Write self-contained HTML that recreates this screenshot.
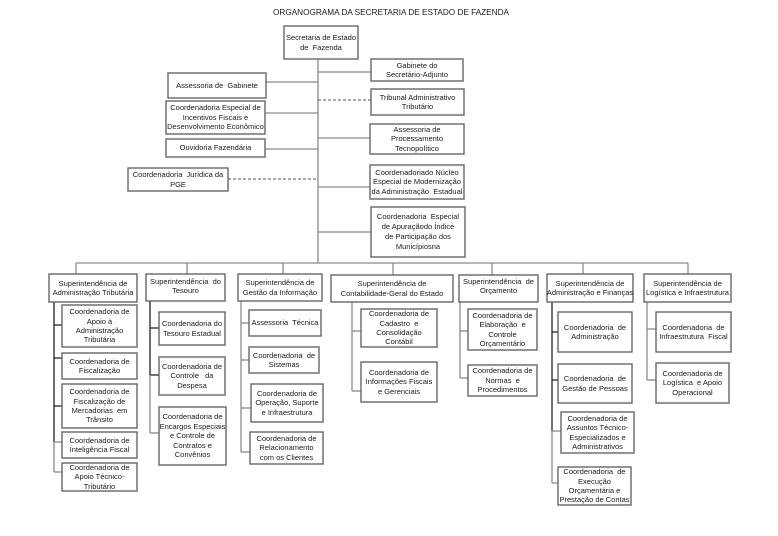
<!DOCTYPE html>
<html>
<head>
<meta charset="utf-8">
<style>
  html,body{margin:0;padding:0;background:#fff;}
  #wrap{position:relative;width:778px;height:536px;overflow:hidden;background:#fff;
    font-family:"Liberation Sans","DejaVu Sans",sans-serif;color:#1a1a1a;}
  svg{position:absolute;left:0;top:0;}
  .b{position:absolute;box-sizing:border-box;display:flex;align-items:center;justify-content:center;
     text-align:center;font-size:7.5px;line-height:9.4px;color:#1a1a1a;white-space:nowrap;}
  .t{align-items:flex-start;padding-top:1px;}
</style>
</head>
<body>
<div id="wrap">
<svg width="778" height="536" viewBox="0 0 778 536">
  <text x="391" y="15" text-anchor="middle" font-family="Liberation Sans, sans-serif" font-size="8.4" fill="#1a1a1a" textLength="236" lengthAdjust="spacingAndGlyphs">ORGANOGRAMA DA SECRETARIA DE ESTADO DE FAZENDA</text>

  <g stroke="#8a8a8a" stroke-width="1.3" fill="none">
    <line x1="318" y1="59" x2="318" y2="263"/>
    <line x1="318" y1="72" x2="371" y2="72"/>
    <line x1="266" y1="82" x2="318" y2="82"/>
    <line x1="265" y1="113" x2="318" y2="113"/>
    <line x1="318" y1="138" x2="370" y2="138"/>
    <line x1="265" y1="149" x2="318" y2="149"/>
    <line x1="318" y1="187" x2="370" y2="187"/>
    <line x1="318" y1="232" x2="371" y2="232"/>
    <line x1="76" y1="263" x2="688" y2="263"/>
    <line x1="76" y1="263" x2="76" y2="274"/>
    <line x1="187" y1="263" x2="187" y2="274"/>
    <line x1="283" y1="263" x2="283" y2="274"/>
    <line x1="393" y1="263" x2="393" y2="275"/>
    <line x1="492" y1="263" x2="492" y2="275"/>
    <line x1="583" y1="263" x2="583" y2="274"/>
    <line x1="688" y1="263" x2="688" y2="274"/>
  </g>
  <g stroke="#555" stroke-width="1" stroke-dasharray="3,2" fill="none">
    <line x1="318" y1="100" x2="371" y2="100"/>
    <line x1="228" y1="179" x2="318" y2="179"/>
  </g>

  <g stroke="#222" stroke-width="1.3" fill="none">
    <line x1="54" y1="302" x2="54" y2="442"/>
    <line x1="54" y1="325" x2="62" y2="325"/>
    <line x1="54" y1="358" x2="62" y2="358"/>
    <line x1="54" y1="406" x2="62" y2="406"/>
  </g>
  <g stroke="#8a8a8a" stroke-width="1.3" fill="none">
    <line x1="54" y1="442" x2="54" y2="472"/>
    <line x1="54" y1="442" x2="62" y2="442"/>
    <line x1="54" y1="472" x2="62" y2="472"/>
  </g>
  <g stroke="#222" stroke-width="1.3" fill="none">
    <line x1="150" y1="301" x2="150" y2="375"/>
    <line x1="150" y1="328" x2="159" y2="328"/>
    <line x1="150" y1="375" x2="159" y2="375"/>
  </g>
  <g stroke="#8a8a8a" stroke-width="1.3" fill="none">
    <line x1="150" y1="375" x2="150" y2="433"/>
    <line x1="150" y1="433" x2="159" y2="433"/>
    <line x1="241" y1="301" x2="241" y2="452"/>
    <line x1="241" y1="323" x2="249" y2="323"/>
    <line x1="241" y1="360" x2="249" y2="360"/>
    <line x1="241" y1="408" x2="251" y2="408"/>
    <line x1="241" y1="452" x2="250" y2="452"/>
    <line x1="352" y1="302" x2="352" y2="391"/>
    <line x1="352" y1="331" x2="361" y2="331"/>
    <line x1="352" y1="391" x2="361" y2="391"/>
    <line x1="460" y1="302" x2="460" y2="378"/>
    <line x1="460" y1="331" x2="468" y2="331"/>
    <line x1="460" y1="378" x2="468" y2="378"/>
    <line x1="647" y1="302" x2="647" y2="380"/>
    <line x1="647" y1="329" x2="656" y2="329"/>
    <line x1="647" y1="380" x2="656" y2="380"/>
  </g>
  <g stroke="#222" stroke-width="1.3" fill="none">
    <line x1="552" y1="302" x2="552" y2="431"/>
    <line x1="552" y1="332" x2="558" y2="332"/>
    <line x1="552" y1="380" x2="558" y2="380"/>
  </g>
  <g stroke="#8a8a8a" stroke-width="1.3" fill="none">
    <line x1="552" y1="431" x2="552" y2="483"/>
    <line x1="552" y1="431" x2="561" y2="431"/>
    <line x1="552" y1="483" x2="558" y2="483"/>
  </g>

  <g stroke="#666" stroke-width="1.4" fill="#fff">
    <rect x="284" y="26" width="74" height="33"/>
    <rect x="371" y="59" width="92" height="22"/>
    <rect x="371" y="89" width="93" height="26"/>
    <rect x="370" y="124" width="94" height="30"/>
    <rect x="370" y="165" width="94" height="34"/>
    <rect x="371" y="207" width="94" height="50"/>
    <rect x="168" y="73" width="98" height="25"/>
    <rect x="166" y="101" width="99" height="33"/>
    <rect x="166" y="139" width="99" height="18"/>
    <rect x="128" y="168" width="100" height="23"/>

    <rect x="49" y="274" width="88" height="28"/>
    <rect x="146" y="274" width="79" height="27"/>
    <rect x="238" y="274" width="84" height="27"/>
    <rect x="331" y="275" width="122" height="27"/>
    <rect x="459" y="275" width="79" height="27"/>
    <rect x="547" y="274" width="86" height="28"/>
    <rect x="644" y="274" width="87" height="28"/>

    <rect x="62" y="305" width="75" height="42"/>
    <rect x="62" y="353" width="75" height="26"/>
    <rect x="62" y="384" width="75" height="44"/>
    <rect x="62" y="432" width="75" height="26"/>
    <rect x="62" y="463" width="75" height="28"/>

    <rect x="159" y="312" width="66" height="33"/>
    <rect x="159" y="357" width="66" height="38"/>
    <rect x="159" y="407" width="67" height="58"/>

    <rect x="249" y="310" width="72" height="26"/>
    <rect x="249" y="347" width="70" height="26"/>
    <rect x="251" y="384" width="72" height="38"/>
    <rect x="250" y="432" width="73" height="32"/>

    <rect x="361" y="309" width="76" height="38"/>
    <rect x="361" y="362" width="76" height="40"/>

    <rect x="468" y="309" width="69" height="41"/>
    <rect x="468" y="365" width="69" height="31"/>

    <rect x="558" y="312" width="74" height="40"/>
    <rect x="558" y="364" width="74" height="39"/>
    <rect x="561" y="412" width="73" height="41"/>
    <rect x="558" y="467" width="73" height="38"/>

    <rect x="656" y="312" width="75" height="40"/>
    <rect x="656" y="363" width="73" height="40"/>
  </g>
</svg>

<div class="b" style="left:284px;top:26px;width:74px;height:33px;">Secretaria de Estado<br>de&nbsp;&nbsp;Fazenda</div>
<div class="b" style="left:371px;top:59px;width:92px;height:22px;">Gabinete do<br>Secretário-Adjunto</div>
<div class="b" style="left:371px;top:89px;width:93px;height:26px;">Tribunal Administrativo<br>Tributário</div>
<div class="b" style="left:370px;top:124px;width:94px;height:30px;">Assessoria de<br>Processamento<br>Tecnopolítico</div>
<div class="b" style="left:370px;top:165px;width:94px;height:34px;">Coordenadoriado Núcleo<br>Especial de Modernização<br>da Administração&nbsp; Estadual</div>
<div class="b" style="left:371px;top:207px;width:94px;height:50px;line-height:10px;">Coordenadoria&nbsp; Especial<br>de Apuraçãodo Índice<br>de Participação dos<br>Municípiosna</div>
<div class="b" style="left:168px;top:73px;width:98px;height:25px;">Assessoria de&nbsp; Gabinete</div>
<div class="b" style="left:166px;top:101px;width:99px;height:33px;">Coordenadoria Especial de<br>Incentivos Fiscais e<br>Desenvolvimento Econômico</div>
<div class="b" style="left:166px;top:139px;width:99px;height:18px;">Ouvidoria Fazendária</div>
<div class="b" style="left:128px;top:168px;width:100px;height:23px;">Coordenadoria&nbsp; Jurídica da<br>PGE</div>

<div class="b" style="left:49px;top:274px;width:88px;height:28px;">Superintendência de<br>Administração Tributária</div>
<div class="b t" style="left:146px;top:274px;width:79px;height:27px;padding-top:3px;">Superintendência&nbsp; do<br>Tesouro</div>
<div class="b" style="left:238px;top:274px;width:84px;height:27px;">Superintendência de<br>Gestão da Informação</div>
<div class="b" style="left:331px;top:275px;width:122px;height:27px;">Superintendência de<br>Contabilidade-Geral do Estado</div>
<div class="b t" style="left:459px;top:275px;width:79px;height:27px;padding-top:2px;">Superintendência&nbsp; de<br>Orçamento</div>
<div class="b" style="left:547px;top:274px;width:86px;height:28px;">Superintendência de<br>Administração e Finanças</div>
<div class="b" style="left:644px;top:274px;width:87px;height:28px;">Superintendência de<br>Logística e Infraestrutura</div>

<div class="b" style="left:62px;top:305px;width:75px;height:42px;">Coordenadoria de<br>Apoio à<br>Administração<br>Tributária</div>
<div class="b" style="left:62px;top:353px;width:75px;height:26px;">Coordenadoria de<br>Fiscalização</div>
<div class="b" style="left:62px;top:384px;width:75px;height:44px;">Coordenadoria de<br>Fiscalização de<br>Mercadorias&nbsp; em<br>Trânsito</div>
<div class="b" style="left:62px;top:432px;width:75px;height:26px;">Coordenadoria de<br>Inteligência Fiscal</div>
<div class="b t" style="left:62px;top:463px;width:75px;height:28px;padding-top:0;">Coordenadoria de<br>Apoio Técnico-<br>Tributário</div>

<div class="b" style="left:159px;top:312px;width:66px;height:33px;">Coordenadoria do<br>Tesouro Estadual</div>
<div class="b" style="left:159px;top:357px;width:66px;height:38px;">Coordenadoria de<br>Controle&nbsp;&nbsp; da<br>Despesa</div>
<div class="b" style="left:159px;top:407px;width:67px;height:58px;">Coordenadoria de<br>Encargos Especiais<br>e Controle de<br>Contratos e<br>Convênios</div>

<div class="b" style="left:249px;top:310px;width:72px;height:26px;">Assessoria&nbsp; Técnica</div>
<div class="b" style="left:249px;top:347px;width:70px;height:26px;">Coordenadoria&nbsp; de<br>Sistemas</div>
<div class="b" style="left:251px;top:384px;width:72px;height:38px;">Coordenadoria de<br>Operação, Suporte<br>e Infraestrutura</div>
<div class="b" style="left:250px;top:432px;width:73px;height:32px;">Coordenadoria de<br>Relacionamento<br>com os Clientes</div>

<div class="b" style="left:361px;top:309px;width:76px;height:38px;">Coordenadoria de<br>Cadastro&nbsp; e<br>Consolidação<br>Contábil</div>
<div class="b" style="left:361px;top:362px;width:76px;height:40px;">Coordenadoria de<br>Informações Fiscais<br>e Gerenciais</div>

<div class="b" style="left:468px;top:309px;width:69px;height:41px;">Coordenadoria de<br>Elaboração&nbsp; e<br>Controle<br>Orçamentário</div>
<div class="b" style="left:468px;top:365px;width:69px;height:31px;">Coordenadoria de<br>Normas&nbsp; e<br>Procedimentos</div>

<div class="b" style="left:558px;top:312px;width:74px;height:40px;">Coordenadoria&nbsp; de<br>Administração</div>
<div class="b" style="left:558px;top:364px;width:74px;height:39px;">Coordenadoria&nbsp; de<br>Gestão de Pessoas</div>
<div class="b" style="left:561px;top:412px;width:73px;height:41px;">Coordenadoria de<br>Assuntos Técnico-<br>Especializados e<br>Administrativos</div>
<div class="b" style="left:558px;top:467px;width:73px;height:38px;">Coordenadoria&nbsp; de<br>Execução<br>Orçamentária e<br>Prestação de Contas</div>

<div class="b" style="left:656px;top:312px;width:75px;height:40px;">Coordenadoria&nbsp; de<br>Infraestrutura&nbsp; Fiscal</div>
<div class="b" style="left:656px;top:363px;width:73px;height:40px;">Coordenadoria de<br>Logística&nbsp; e Apoio<br>Operacional</div>

</div>
</body>
</html>
